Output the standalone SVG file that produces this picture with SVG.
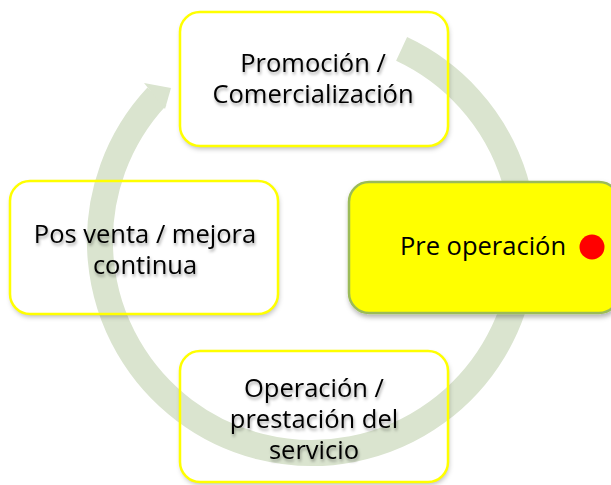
<svg xmlns="http://www.w3.org/2000/svg" width="611" height="485" viewBox="0 0 611 485">
<style>
.box{fill:none;stroke:#ffff00;stroke-width:2.5}
.boxsh{fill:#fff;filter:url(#outsh)}
.hl{fill:#ffff00;stroke:#9bbb59;stroke-width:2.5;filter:url(#dsh)}
.lbl{font-family:"Open Sans","Noto Sans",sans-serif;font-size:25.5px;fill:#000;text-anchor:middle}
.tsh{filter:url(#ts)}
.band{fill:none;stroke:#dae4cf;stroke-width:26}
.head{fill:#dae4cf}
</style>
<defs>
<filter id="outsh" x="-10%" y="-10%" width="120%" height="130%">
<feGaussianBlur in="SourceAlpha" stdDeviation="2.5"/>
<feOffset dx="1" dy="3" result="b"/>
<feFlood flood-color="#000" flood-opacity="0.25"/>
<feComposite in2="b" operator="in" result="s"/>
<feComposite in="s" in2="SourceAlpha" operator="out"/>
</filter>
<filter id="dsh" x="-10%" y="-10%" width="120%" height="130%">
<feDropShadow dx="1" dy="3" stdDeviation="2.5" flood-color="#000" flood-opacity="0.3"/>
</filter>
<filter id="ts" x="-10%" y="-30%" width="120%" height="170%">
<feDropShadow dx="1" dy="2.5" stdDeviation="1.6" flood-color="#000" flood-opacity="0.35"/>
</filter>
</defs>
<g id="connectors">
<path class="band" d="M 401.6 48.9 A 212 212 0 1 1 156.9 96.4"/>
<polygon class="head" points="144,83 171,88 165,109"/>
</g>
<g id="node-promocion">
<rect class="boxsh" x="180" y="12" width="268" height="134" rx="20"/>
<rect class="box" x="180" y="12" width="268" height="134" rx="20"/>
<g class="tsh"><text class="lbl" x="313" y="72">Promoción /</text><text class="lbl" x="313" y="103">Comercialización</text></g>
</g>
<g id="node-preoperacion">
<rect class="hl" x="349" y="182" width="270" height="131" rx="20"/>
<text class="lbl" x="483" y="255">Pre operación</text>
<circle cx="592" cy="247" r="12.5" fill="#ff0000"/>
</g>
<g id="node-operacion">
<rect class="boxsh" x="180" y="351" width="268" height="131" rx="20"/>
<rect class="box" x="180" y="351" width="268" height="131" rx="20"/>
<g class="tsh"><text class="lbl" x="314" y="397">Operación /</text><text class="lbl" x="314" y="428">prestación del</text><text class="lbl" x="314" y="459">servicio</text></g>
</g>
<g id="node-posventa">
<rect class="boxsh" x="10" y="181" width="268" height="133" rx="20"/>
<rect class="box" x="10" y="181" width="268" height="133" rx="20"/>
<g class="tsh"><text class="lbl" x="145" y="243">Pos venta / mejora</text><text class="lbl" x="145" y="274">continua</text></g>
</g>
</svg>
